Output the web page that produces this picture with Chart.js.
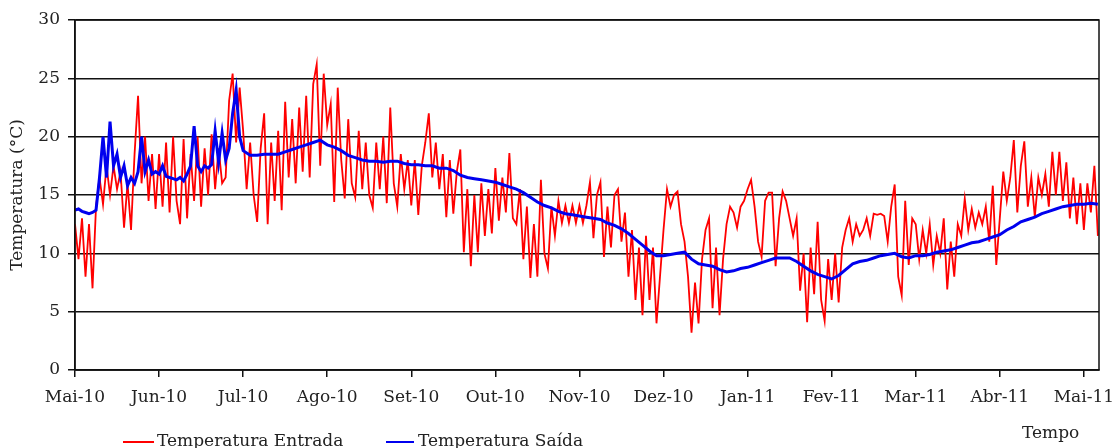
<!DOCTYPE html>
<html>
<head>
<meta charset="utf-8">
<script src="https://cdn.jsdelivr.net/npm/chart.js@4/dist/chart.umd.min.js"></script>
<style>
    body { margin: 0; background: #fff; }
    #wrap { position: relative; width: 1116px; height: 448px; overflow: hidden; font-family: "DejaVu Serif", serif; color: #222; }
    .leg-line { position: absolute; height: 2px; }
    .leg-text { position: absolute; font-size: 17px; line-height: 17px; white-space: nowrap; }
</style>
</head>
<body>
<div id="wrap">
    <canvas id="grafico" width="1116" height="448"></canvas>
    <div class="leg-line" style="left:123px; top:441px; width:31px; background:#ff0000;"></div>
    <div class="leg-text" style="left:157px; top:432px;">Temperatura Entrada</div>
    <div class="leg-line" style="left:386px; top:441px; width:28px; background:#0000ee;"></div>
    <div class="leg-text" style="left:418px; top:432px;">Temperatura Saída</div>
    <div class="leg-text" style="left:1022px; top:424px;">Tempo</div>
</div>
<script>
// month labels on the x axis (one tick per month)
const meses = ["Mai-10", "Jun-10", "Jul-10", "Ago-10", "Set-10", "Out-10", "Nov-10",
    "Dez-10", "Jan-11", "Fev-11", "Mar-11", "Abr-11", "Mai-11"];

// Temperatura Entrada (°C), 24 readings per month
const entradaMai10 = [12.5, 9.5, 13, 8, 12.5, 7.0, 14, 16.5, 14.2, 17.5, 15, 17.5, 15.5, 17, 12.2, 16, 12.0, 18.5, 23.5, 16, 20, 14.5, 18.5, 13.8];
const entradaJun10 = [18.5, 14, 19.5, 13.5, 20, 14.5, 12.5, 19.8, 13, 18.5, 14.5, 20, 14, 19, 15, 20.2, 15.5, 19, 16, 16.5, 23.1, 25.4, 19.5, 24.2];
const entradaJul10 = [20.5, 15.5, 19.5, 15, 12.7, 19, 22, 12.5, 19.5, 14.5, 20.5, 13.7, 23, 16.5, 21.5, 16, 22.5, 17, 23.5, 16.5, 24.5, 26.2, 17.5, 25.4];
const entradaAgo10 = [21, 22.8, 14.4, 24.2, 18, 14.7, 21.5, 16, 14.8, 20.5, 15.5, 19.5, 15, 13.9, 19.5, 15.5, 20, 14.3, 22.5, 16, 14, 18.5, 15.5, 18];
const entradaSet10 = [14.1, 18, 13.3, 17.5, 19.5, 22, 16.5, 19.5, 15.5, 18.5, 13.1, 18, 13.4, 17, 18.9, 10.1, 15.5, 8.9, 15, 10.1, 16, 11.5, 15.5, 11.7];
const entradaOut10 = [17.3, 12.8, 16.5, 13.5, 18.6, 13, 12.5, 15.5, 9.5, 14, 7.9, 12.5, 8, 16.3, 10, 8.7, 14, 11.5, 14.5, 12.6, 14.1, 12.6, 14.1, 12.6];
const entradaNov10 = [14.1, 12.6, 14.1, 16.1, 11.3, 15, 16.1, 9.7, 14, 10.5, 15, 15.5, 11, 13.5, 8, 12, 6, 10.5, 4.7, 11.5, 6, 10.5, 4.0, 8];
const entradaDez10 = [12, 15.5, 14, 15, 15.3, 12.5, 11, 8, 3.2, 7.5, 4, 9.5, 12, 13, 5.3, 10.5, 4.7, 9.5, 12.5, 14, 13.5, 12.2, 14, 14.5];
const entradaJan11 = [15.5, 16.3, 14, 11, 9.7, 14.5, 15.2, 15.2, 8.9, 13, 15.3, 14.5, 13, 11.5, 13, 6.8, 10, 4.1, 10.5, 6.5, 12.7, 6, 4.2, 9.5];
const entradaFev11 = [6, 10, 5.8, 10.5, 12, 13, 11, 12.5, 11.5, 12, 13, 11.5, 13.4, 13.3, 13.4, 13.2, 11, 14, 15.9, 8, 6.4, 14.5, 9, 13];
const entradaMar11 = [12.5, 9.5, 12, 10, 12.5, 9, 11.5, 10, 13, 6.9, 11, 8, 12.5, 11.5, 14.7, 12, 13.8, 12.2, 13.5, 12.5, 14, 11, 15.8, 9];
const entradaAbr11 = [13, 17, 14.5, 16.5, 19.7, 13.5, 17.5, 19.6, 14, 16.5, 13.1, 16.5, 15, 16.8, 14, 18.7, 15, 18.7, 14.5, 17.8, 13, 16.5, 12.5, 16];
const entradaMai11 = [12, 16, 13.5, 17.5, 11.5];

// Temperatura Saída (°C): 24 readings per month for May-Jun, 12 afterwards
const saidaMai10 = [13.7, 13.8, 13.6, 13.5, 13.4, 13.5, 13.7, 16.5, 20, 16.5, 21.3, 17.5, 18.5, 16.5, 17.5, 15.8, 16.5, 16, 17, 20, 17, 18, 16.8, 17];
const saidaJun10 = [16.8, 17.5, 16.6, 16.5, 16.4, 16.3, 16.5, 16.2, 16.8, 17.5, 20.9, 17.5, 17, 17.5, 17.3, 17.6, 20.5, 17.8, 20.3, 18, 19, 22, 24, 20];
const saidaJul10 = [18.8, 18.4, 18.4, 18.5, 18.5, 18.5, 18.7, 18.9, 19.1, 19.3, 19.5, 19.7];
const saidaAgo10 = [19.3, 19.1, 18.8, 18.4, 18.2, 18.0, 17.9, 17.9, 17.8, 17.9, 17.9, 17.7];
const saidaSet10 = [17.6, 17.6, 17.5, 17.5, 17.3, 17.3, 17.1, 16.7, 16.5, 16.4, 16.3, 16.2];
const saidaOut10 = [16.1, 15.9, 15.7, 15.5, 15.2, 14.8, 14.4, 14.1, 13.9, 13.6, 13.4, 13.3];
const saidaNov10 = [13.2, 13.1, 13.0, 12.9, 12.6, 12.4, 12.1, 11.7, 11.2, 10.7, 10.2, 9.8];
const saidaDez10 = [9.8, 9.9, 10.0, 10.1, 9.5, 9.1, 9.0, 8.9, 8.6, 8.4, 8.5, 8.7];
const saidaJan11 = [8.8, 9.0, 9.2, 9.4, 9.6, 9.6, 9.6, 9.3, 8.9, 8.5, 8.2, 8.0];
const saidaFev11 = [7.8, 8.1, 8.6, 9.1, 9.3, 9.4, 9.6, 9.8, 9.9, 10.0, 9.7, 9.6];
const saidaMar11 = [9.8, 9.8, 9.9, 10.1, 10.2, 10.3, 10.5, 10.7, 10.9, 11.0, 11.2, 11.4];
const saidaAbr11 = [11.6, 12.0, 12.3, 12.7, 12.9, 13.1, 13.4, 13.6, 13.8, 14.0, 14.1, 14.2];
const saidaMai11 = [14.2, 14.3, 14.2];

const entradaLeituras = [24, 24, 24, 24, 24, 24, 24, 24, 24, 24, 24, 24, 24];
const saidaLeituras = [24, 24, 12, 12, 12, 12, 12, 12, 12, 12, 12, 12, 12];

// spread each month's readings evenly between its tick and the next one
function toPoints(months, perMonth) {
    const pts = [];
    months.forEach((vals, m) => {
        vals.forEach((v, i) => pts.push({ x: m + i / perMonth[m], y: v }));
    });
    return pts;
}

const entrada = toPoints([entradaMai10, entradaJun10, entradaJul10, entradaAgo10, entradaSet10, entradaOut10,
    entradaNov10, entradaDez10, entradaJan11, entradaFev11, entradaMar11, entradaAbr11, entradaMai11], entradaLeituras);
const saida = toPoints([saidaMai10, saidaJun10, saidaJul10, saidaAgo10, saidaSet10, saidaOut10,
    saidaNov10, saidaDez10, saidaJan11, saidaFev11, saidaMar11, saidaAbr11, saidaMai11], saidaLeituras);

const fonte = { family: "'DejaVu Serif', serif", size: 17 };

// box round the plot area
const moldura = {
    id: "moldura",
    afterDraw(chart) {
        const a = chart.chartArea, ctx = chart.ctx;
        ctx.save();
        ctx.strokeStyle = "#111";
        ctx.lineWidth = 1.5;
        ctx.strokeRect(a.left, a.top, a.right - a.left, a.bottom - a.top);
        ctx.restore();
    }
};

new Chart(document.getElementById("grafico"), {
    type: "line",
    data: {
        datasets: [
            {
                label: "Temperatura Entrada",
                data: entrada,
                borderColor: "#ff0000",
                borderWidth: 1.8,
                pointRadius: 0,
                tension: 0,
                order: 2,
            },
            {
                label: "Temperatura Saída",
                data: saida,
                borderColor: "#0000ee",
                borderWidth: 3,
                pointRadius: 0,
                tension: 0,
                order: 1,
            },
        ],
    },
    options: {
        responsive: false,
        animation: false,
        devicePixelRatio: 1,
        layout: { padding: { top: 20, right: 17, bottom: 38, left: 0 } },
        plugins: { legend: { display: false }, tooltip: { enabled: false } },
        scales: {
            x: {
                type: "linear",
                min: 0,
                max: 12.18,
                afterBuildTicks: (s) => { s.ticks = meses.map((_, i) => ({ value: i })); },
                afterFit: (s) => { s.height = 40; s.paddingLeft = 0; s.paddingRight = 0; },
                ticks: {
                    autoSkip: false,
                    maxRotation: 0,
                    padding: 10,
                    color: "#222",
                    font: fonte,
                    callback: (v) => meses[v],
                },
                grid: { drawOnChartArea: false, drawTicks: true, tickLength: 7, color: "#111", lineWidth: 1.5 },
                border: { color: "#111", width: 1.5 },
            },
            y: {
                min: 0,
                max: 30,
                afterFit: (s) => { s.width = 75; },
                ticks: { stepSize: 5, padding: 8, color: "#222", font: fonte },
                grid: { color: "#111", lineWidth: 1.5, tickLength: 7 },
                border: { color: "#111", width: 1.5 },
                title: {
                    display: true,
                    text: "Temperatura (°C)",
                    color: "#222",
                    font: fonte,
                    padding: { top: 7, bottom: 0 },
                },
            },
        },
    },
    plugins: [moldura],
});
</script>
</body>
</html>
